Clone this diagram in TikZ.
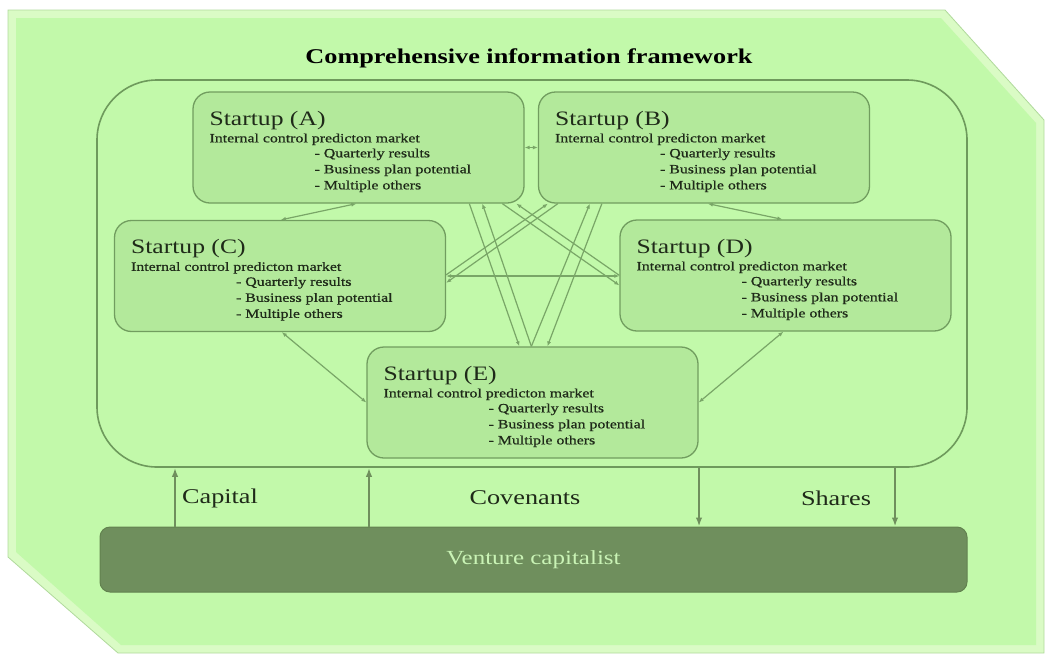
\documentclass[tikz,border=0pt]{standalone}
\usepackage{graphicx}
\usepackage{fontspec}
\setmainfont{Liberation Serif}
\newfontfamily\heavyserif[FakeBold=0.7]{Liberation Serif}
\usetikzlibrary{calc,arrows.meta}
\definecolor{bgg}{HTML}{C2F9AA}
\definecolor{bevelc}{HTML}{DAFBC5}
\definecolor{edgec}{HTML}{B0D99C}
\definecolor{boxfill}{HTML}{B3E99B}
\definecolor{boxline}{HTML}{719D5F}
\definecolor{fwline}{HTML}{6E9A5C}
\definecolor{connc}{HTML}{79A667}
\definecolor{vcfill}{HTML}{6F8F5D}
\definecolor{vcline}{HTML}{62824F}
\definecolor{vctext}{HTML}{C9F3B5}
\definecolor{txtc}{HTML}{1F2A19}
\newcommand{\hstr}[1]{\scalebox{1.25}[1]{#1}}
\begin{document}
\begin{tikzpicture}[x=1pt,y=-1pt,
  sbox/.style={draw=boxline, line width=1.3pt, fill=boxfill, rounded corners=17pt,
    minimum width=331pt, minimum height=111pt, inner sep=0pt},
  fwbox/.style={draw=fwline, line width=1.6pt, rounded corners=60pt,
    minimum width=870pt, minimum height=387pt, inner sep=0pt},
  vcbox/.style={draw=vcline, line width=1pt, fill=vcfill, rounded corners=10pt,
    minimum width=867pt, minimum height=65pt, inner sep=0pt,
    text=vctext, font=\fontsize{20}{22}\selectfont},
  ttl/.style={anchor=base west, inner sep=0pt, text=txtc, font=\fontsize{20.5}{22}\selectfont},
  sub/.style={anchor=base west, inner sep=0pt, text=txtc, font=\heavyserif\fontsize{12.7}{14}\selectfont},
  lbl/.style={inner sep=0pt, text=txtc, font=\fontsize{21}{23}\selectfont},
  conn/.style={draw=connc, line width=1.2pt, -{Latex[length=5pt,width=4pt]}},
  conn2/.style={draw=connc, line width=1.2pt, {Latex[length=5pt,width=4pt]}-{Latex[length=5pt,width=4pt]}},
  vca/.style={draw=vcfill, line width=2.2pt, -{Latex[length=9pt,width=6.5pt]}}
]
\useasboundingbox (0,0) rectangle (1046,659);
% outer bevelled plate
\fill[bevelc, draw=edgec, line width=0.8pt] (8,10) -- (945,10) -- (1044,120) -- (1044,653) -- (118,653) -- (8,557) -- cycle;
\fill[bgg] (16,18) -- (941,18) -- (1036,123) -- (1036,645) -- (121,645) -- (16,552) -- cycle;

% framework
\node[fwbox] (fw) at (532,273.5) {};
\node[inner sep=0pt, text=black, font=\bfseries\fontsize{21}{23}\selectfont] (title) at (529,58) {\hstr{Comprehensive information framework}};

% startups
\node[sbox] (A) at (358.5,147.5) {};
\node[sbox] (B) at (704,147.5) {};
\node[sbox] (C) at (280,276) {};
\node[sbox] (D) at (785.5,275.5) {};
\node[sbox] (E) at (532.5,402.5) {};

\foreach \b in {A,B,C,D,E}{
  \node[ttl] (\b-t) at ($(\b.north west)+(17,34)$) {\hstr{Startup (\b)}};
  \node[sub] (\b-s) at ($(\b.north west)+(17,51)$) {\hstr{Internal control predicton market}};
  \node[sub] (\b-1) at ($(\b.north west)+(122,66)$) {\hstr{- Quarterly results}};
  \node[sub] (\b-2) at ($(\b.north west)+(122,82)$) {\hstr{- Business plan potential}};
  \node[sub] (\b-3) at ($(\b.north west)+(122,98)$) {\hstr{- Multiple others}};
}

% connectors between startups
\draw[conn2] (A.east) -- (B.west);
\draw[conn2] ($(A.south west)+(164,0)$) -- ($(C.north west)+(167,0)$);
\draw[conn2] ($(B.south west)+(170,0)$) -- ($(D.north west)+(163,0)$);
\draw[conn2] ($(C.south west)+(168,0)$) -- (E.west);
\draw[conn2] ($(D.south west)+(164,0)$) -- (E.east);
\draw[conn2] (C.east) -- (C.east -| D.west);
\draw[conn] ($(A.south west)+(277,0)$) -- ($(E.north west)+(153,0)$);
\draw[conn] ($(E.north west)+(165,0)$) -- ($(A.south west)+(290,0)$);
\draw[conn] ($(E.north west)+(165,0)$) -- ($(B.south west)+(52,0)$);
\draw[conn] ($(B.south west)+(64,0)$) -- ($(E.north west)+(181,0)$);
\draw[conn] ($(A.south west)+(310,0)$) -- ($(D.north west)+(0,66)$);
\draw[conn] ($(D.north west)+(0,56)$) -- ($(A.south west)+(324,0)$);
\draw[conn] ($(C.north east)+(0,55)$) -- ($(B.south west)+(10,0)$);
\draw[conn] ($(B.south west)+(20,0)$) -- ($(C.north east)+(0,63)$);

% venture capitalist
\node[vcbox] (vc) at (533.5,559.5) {\hstr{Venture capitalist}};
\coordinate (x1) at (175,0);
\coordinate (x2) at (369,0);
\coordinate (x3) at (699,0);
\coordinate (x4) at (895,0);
\draw[vca] (vc.north -| x1) -- (fw.south -| x1);
\draw[vca] (vc.north -| x2) -- (fw.south -| x2);
\draw[vca] (fw.south -| x3) -- (vc.north -| x3);
\draw[vca] (fw.south -| x4) -- (vc.north -| x4);
\node[lbl] (cap) at (220,498) {\hstr{Capital}};
\node[lbl] (cov) at (525,498) {\hstr{Covenants}};
\node[lbl] (sha) at (836,498) {\hstr{Shares}};
\end{tikzpicture}
\end{document}
